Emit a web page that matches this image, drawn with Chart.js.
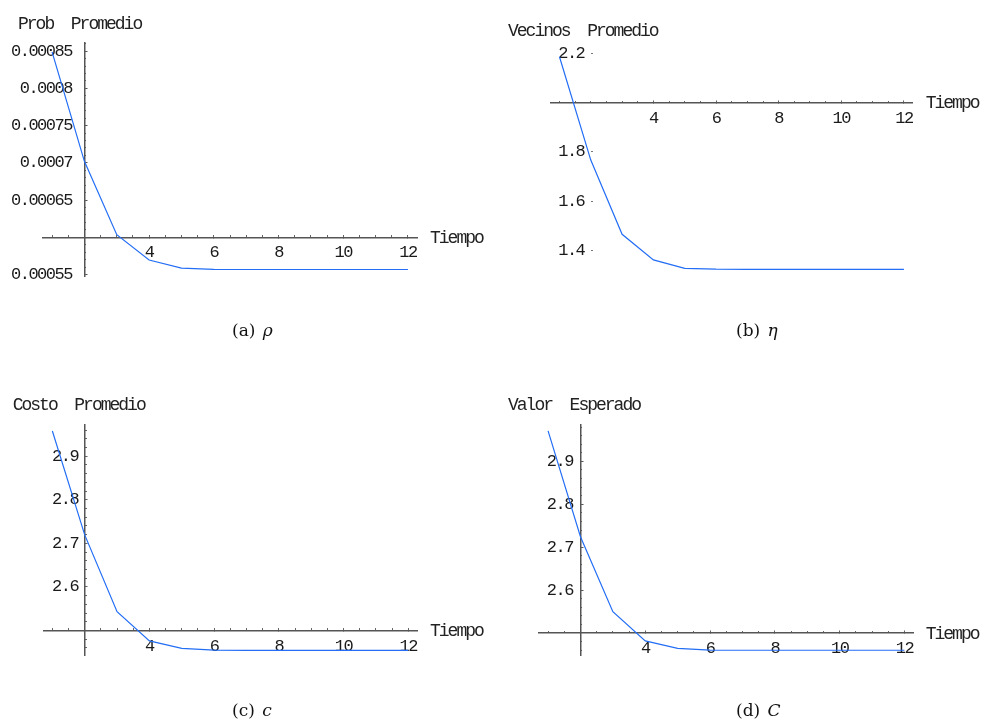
<!DOCTYPE html>
<html>
<head>
<meta charset="utf-8">
<script src="https://cdn.jsdelivr.net/npm/chart.js@4.4.1/dist/chart.umd.min.js"></script>
<style>
  body { margin: 0; background: #fff; }
  #wrap { position: relative; width: 982px; height: 721px; overflow: hidden; background: #fff; }
  canvas { position: absolute; }
  .lbl { position: absolute; font-family: 'Liberation Mono', monospace; font-size: 18px; line-height: 18px;
         letter-spacing: -2px; color: #222; white-space: pre; }
  .cap { position: absolute; font-family: 'DejaVu Serif', serif; font-size: 17px; line-height: 17px;
         color: #111; white-space: pre; }
  .cap i { margin-left: 2px; }
</style>
</head>
<body>
<div id="wrap">
  <canvas id="cA"></canvas>
  <canvas id="cB"></canvas>
  <canvas id="cC"></canvas>
  <canvas id="cD"></canvas>

  <div class="lbl" style="left:18px;top:15px">Prob  Promedio</div>
  <div class="lbl" style="left:508px;top:22px">Vecinos  Promedio</div>
  <div class="lbl" style="left:12.7px;top:396px">Costo  Promedio</div>
  <div class="lbl" style="left:508px;top:396px">Valor  Esperado</div>

  <div class="lbl" style="left:430px;top:229px">Tiempo</div>
  <div class="lbl" style="left:925.7px;top:94px">Tiempo</div>
  <div class="lbl" style="left:430px;top:622px">Tiempo</div>
  <div class="lbl" style="left:925.7px;top:625px">Tiempo</div>

  <div class="cap" style="left:232px;top:322px">(a) <i>ρ</i></div>
  <div class="cap" style="left:736px;top:322px">(b) <i>η</i></div>
  <div class="cap" style="left:232px;top:702px">(c) <i>c</i></div>
  <div class="cap" style="left:736px;top:702px">(d) <i>C</i></div>
</div>
<script>
// simulation steps
const tiempo = [1, 2, 3, 4, 5, 6, 7, 8, 9, 10, 11, 12];

// averaged quantities per step
const probPromedio = [0.000849, 0.000702, 0.0006035, 0.0005695, 0.0005585, 0.000557,
                      0.0005567, 0.0005567, 0.0005567, 0.0005567, 0.0005567, 0.0005567];
const vecinosPromedio = [2.186, 1.767, 1.466, 1.362, 1.328, 1.3245,
                         1.324, 1.324, 1.324, 1.324, 1.324, 1.324];
const costoPromedio = [2.958, 2.7195, 2.543, 2.476, 2.459, 2.455,
                       2.4545, 2.4545, 2.4545, 2.4545, 2.4545, 2.4545];
const valorEsperado = [2.971, 2.7245, 2.5497, 2.4814, 2.4643, 2.4602,
                       2.4597, 2.4597, 2.4597, 2.4597, 2.4597, 2.4597];

// axis ticks
const ticksTiempo = [4, 6, 8, 10, 12];
const ticksProb = [0.00055, 0.00065, 0.0007, 0.00075, 0.0008, 0.00085];
const labelsProb = ['0.00055', '0.00065', '0.0007', '0.00075', '0.0008', '0.00085'];
const ticksVecinos = [1.4, 1.6, 1.8, 2.2];
const labelsVecinos = ['1.4', '1.6', '1.8', '2.2'];
const ticksCosto = [2.6, 2.7, 2.8, 2.9];
const labelsCosto = ['2.6', '2.7', '2.8', '2.9'];

const LINE = 'rgb(35,110,245)';
const AXIS = '#555';
const tickFont = { family: "'Liberation Mono', monospace", size: 17 };

// canvas text drawn a bit tighter, like the old Courier plots
const tightText = {
  id: 'tightText',
  beforeDraw(chart) { chart.ctx.letterSpacing = '-1.5px'; }
};

function range(lo, hi, step) {
  const out = [];
  for (let k = Math.ceil(lo / step - 1e-9); k * step <= hi + 1e-12; k++) out.push(+(k * step).toPrecision(10));
  return out;
}

const panels = [
  { id: 'cA', box: [0, 0, 490, 340], area: [43, 43, 417, 276],
    yMin: 0.000548, yMax: 0.000861, yCross: 0.0006, values: probPromedio,
    yTicks: ticksProb, yLabels: labelsProb, yMinor: 0.00001, labelGap: 12.5, yLine: true },
  { id: 'cB', box: [490, 0, 492, 340], area: [550.7, 52.6, 912.7, 273.5],
    yMin: 1.307, yMax: 2.203, yCross: 2.0, values: vecinosPromedio,
    yTicks: ticksVecinos, yLabels: labelsVecinos, yMinor: 0, labelGap: 6.5, yLine: false },
  { id: 'cC', box: [0, 340, 490, 381], area: [43.3, 424.3, 417.3, 655.7],
    yMin: 2.4421, yMax: 2.9734, yCross: 2.5, values: costoPromedio,
    yTicks: ticksCosto, yLabels: labelsCosto, yMinor: 0.02, labelGap: 6.5, yLine: true },
  { id: 'cD', box: [490, 340, 492, 381], area: [539, 424.3, 913.5, 655.7],
    yMin: 2.447, yMax: 2.9865, yCross: 2.5, values: valorEsperado,
    yTicks: ticksCosto, yLabels: labelsCosto, yMinor: 0.02, labelGap: 7.5, yLine: true }
];

const X_MIN = 0.72, X_MAX = 12.28, Y_AXIS_AT = 2;

function fixedTicks(vals) {
  return s => { s.ticks = vals.map(v => ({ value: v })); };
}

function drawPanel(p) {
  const cv = document.getElementById(p.id);
  cv.width = p.box[2];
  cv.height = p.box[3];
  cv.style.left = p.box[0] + 'px';
  cv.style.top = p.box[1] + 'px';

  const padding = {
    left: p.area[0] - p.box[0],
    top: p.area[1] - p.box[1],
    right: p.box[0] + p.box[2] - p.area[2],
    bottom: p.box[1] + p.box[3] - p.area[3]
  };
  // y tick labels sit a few pixels left of the vertical axis
  const pxPerUnit = (p.area[2] - p.area[0]) / (X_MAX - X_MIN);
  const labelAt = Y_AXIS_AT - p.labelGap / pxPerUnit;

  const minorX = range(1, 12, 0.5);
  const minorY = p.yMinor ? range(p.yMin, p.yMax, p.yMinor) : [];

  const scales = {
    x: {
      type: 'linear', axis: 'x', min: X_MIN, max: X_MAX, position: { y: p.yCross },
      afterBuildTicks: fixedTicks(ticksTiempo),
      ticks: { autoSkip: false, maxRotation: 0, padding: 8.5, font: tickFont, color: '#1a1a1a',
               callback: (v, i) => String(ticksTiempo[i]) },
      grid: { drawOnChartArea: false, tickLength: -3, tickColor: AXIS, tickWidth: 1 },
      border: { display: true, color: AXIS, width: 1.5 }
    },
    xm: {
      type: 'linear', axis: 'x', min: X_MIN, max: X_MAX, position: { y: p.yCross },
      afterBuildTicks: fixedTicks(minorX),
      ticks: { autoSkip: false, maxRotation: 0, padding: 0, font: tickFont, callback: () => '' },
      grid: { drawOnChartArea: false, tickLength: -2, tickColor: '#666', tickWidth: 1 },
      border: { display: false }
    },
    y: {
      type: 'linear', axis: 'y', min: p.yMin, max: p.yMax, position: { x: Y_AXIS_AT },
      afterBuildTicks: fixedTicks(p.yTicks),
      ticks: { autoSkip: false, padding: 0, font: tickFont, callback: () => '' },
      grid: { drawOnChartArea: false, tickLength: p.yLine ? -3.5 : -2,
              tickColor: p.yLine ? AXIS : '#777', tickWidth: 1 },
      border: { display: p.yLine, color: AXIS, width: 1.5 }
    },
    yl: {
      type: 'linear', axis: 'y', min: p.yMin, max: p.yMax, position: { x: labelAt },
      afterBuildTicks: fixedTicks(p.yTicks),
      ticks: { autoSkip: false, padding: 0, font: tickFont, color: '#1a1a1a',
               callback: (v, i) => p.yLabels[i] },
      grid: { display: false, drawOnChartArea: false, drawTicks: false },
      border: { display: false }
    }
  };
  if (minorY.length) {
    scales.ym = {
      type: 'linear', axis: 'y', min: p.yMin, max: p.yMax, position: { x: Y_AXIS_AT },
      afterBuildTicks: fixedTicks(minorY),
      ticks: { autoSkip: false, padding: 0, font: tickFont, callback: () => '' },
      grid: { drawOnChartArea: false, tickLength: -2, tickColor: '#666', tickWidth: 1 },
      border: { display: false }
    };
  }

  return new Chart(cv, {
    type: 'line',
    data: {
      datasets: [{
        data: tiempo.map((t, i) => ({ x: t, y: p.values[i] })),
        xAxisID: 'x', yAxisID: 'y',
        borderColor: LINE, borderWidth: 1.2, pointRadius: 0, tension: 0, fill: false
      }]
    },
    options: {
      responsive: false,
      animation: false,
      events: [],
      layout: { padding: padding },
      plugins: { legend: { display: false }, tooltip: { enabled: false } },
      scales: scales
    },
    plugins: [tightText]
  });
}

panels.forEach(drawPanel);
</script>
</body>
</html>
